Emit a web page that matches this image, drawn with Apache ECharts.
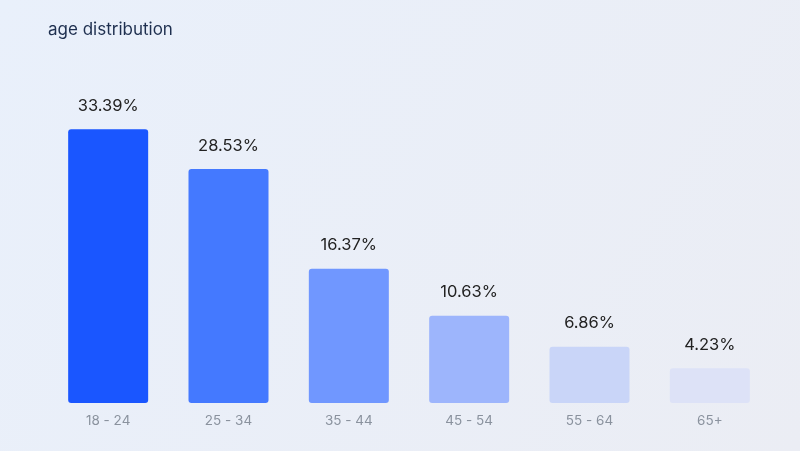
<!DOCTYPE html>
<html><head><meta charset="utf-8">
<script src="https://cdn.jsdelivr.net/npm/echarts@6/dist/echarts.min.js"></script>
<style>html,body{margin:0;padding:0;}#c{width:800px;height:451px;}</style>
</head><body><div id="c"></div>
<script>
const categories = ['18 - 24','25 - 34','35 - 44','45 - 54','55 - 64','65+'];
const values = [33.39, 28.53, 16.37, 10.63, 6.86, 4.23];
const barColors = ['#1a56ff','#4479ff','#7097ff','#9db5fc','#c9d5f8','#dde2f7'];
const chart = echarts.init(document.getElementById('c'));
chart.setOption({
  backgroundColor: new echarts.graphic.LinearGradient(0,0,1,1,[{offset:0,color:'#e9f0fb'},{offset:1,color:'#ebedf4'}]),
  title: {text:'age distribution', left:43, top:16, textStyle:{fontFamily:'Inter', fontSize:17, fontWeight:'normal', color:'#1e2f4f'}},
  grid: {left:48, right:30, top:75, bottom:48},
  xAxis: {type:'category', data:categories, axisLine:{show:false}, axisTick:{show:false},
    axisLabel:{color:'#8a929e', fontSize:13.5, fontFamily:'Inter', margin:11}},
  yAxis: {type:'value', min:0, max:40, show:false, splitLine:{show:false}},
  series: [{type:'bar', barWidth:80,
    data: values.map((v,i)=>({value:v, itemStyle:{color:barColors[i]}})),
    itemStyle:{borderRadius:[3,3,3,3]},
    label:{show:true, position:'top', distance:15, formatter:p=>p.value.toFixed(2)+'%', color:'#222', fontSize:16.5, fontFamily:'Inter'}
  }]
});
</script></body></html>
